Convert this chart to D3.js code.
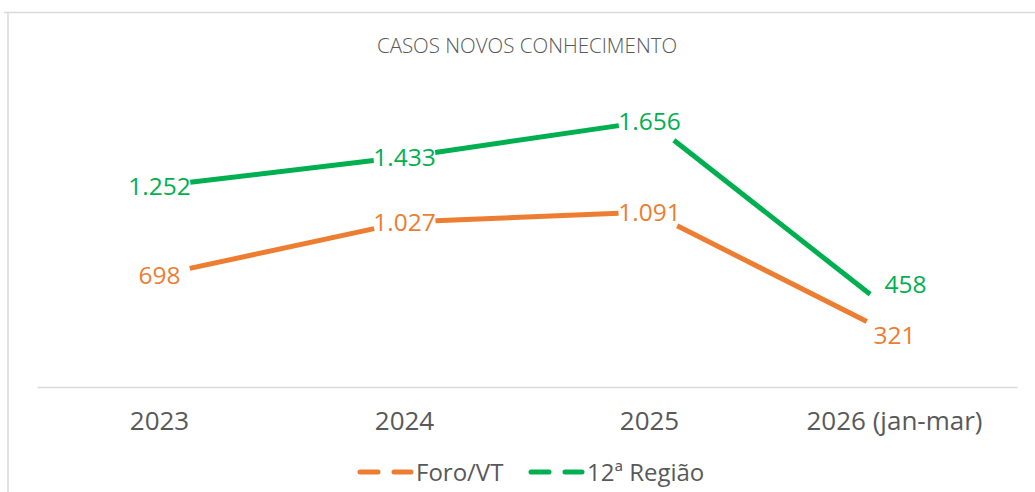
<!DOCTYPE html>
<html>
<head>
<meta charset="utf-8">
<script src="https://cdn.jsdelivr.net/npm/d3@7"></script>
<style>
  html, body { margin: 0; padding: 0; background: #fff; }
  svg { display: block; font-family: "Open Sans", sans-serif; }
</style>
</head>
<body>
<svg id="chart" width="1035" height="492"></svg>
<script>
const title = "CASOS NOVOS CONHECIMENTO";
const categories = ["2023", "2024", "2025", "2026 (jan-mar)"];
const seriesNames = ["Foro/VT", "12ª Região"];
const foroVT = [698, 1027, 1091, 321];
const regiao12 = [1252, 1433, 1656, 458];
const colors = ["#ED7D31", "#00B050"];
const yDomain = [0, 1800];

const fmt = v => d3.format(",")(v).replace(/,/g, ".");

const svg = d3.select("#chart");
const W = 1035, H = 492;

// outer frame (partial, as in reference)
svg.append("line").attr("x1", 4).attr("x2", W).attr("y1", 12.5).attr("y2", 12.5)
  .attr("stroke", "#d9d9d9").attr("stroke-width", 1.5);
svg.append("line").attr("x1", 8).attr("x2", 8).attr("y1", 12).attr("y2", H)
  .attr("stroke", "#d9d9d9").attr("stroke-width", 1.5);

svg.append("text").attr("x", 527).attr("y", 53).attr("text-anchor", "middle")
  .attr("fill", "#595959").attr("font-size", 20.5).attr("font-weight", 300)
  .text(title);

const x = d3.scaleBand().domain(categories).range([37, 1017]);
const y = d3.scaleLinear().domain(yDomain).range([387, 98]);

// x axis
const xAxis = svg.append("g").attr("transform", "translate(0,387)")
  .call(d3.axisBottom(x).tickSize(0).tickPadding(0));
xAxis.select(".domain").attr("stroke", "#d9d9d9").attr("stroke-width", 1.5);
xAxis.selectAll(".tick text").attr("font-family", "Open Sans, sans-serif")
  .attr("font-size", 26).attr("fill", "#595959").attr("dy", null).attr("y", 43);

const series = [foroVT, regiao12];
const gap = 31;

series.forEach((vals, si) => {
  const pts = vals.map((v, i) => [x(categories[i]) + x.bandwidth() / 2, y(v)]);
  const g = svg.append("g");
  for (let i = 0; i < pts.length - 1; i++) {
    const [x0, y0] = pts[i], [x1, y1] = pts[i + 1];
    const len = Math.hypot(x1 - x0, y1 - y0);
    const ux = (x1 - x0) / len, uy = (y1 - y0) / len;
    g.append("line")
      .attr("x1", x0 + ux * gap).attr("y1", y0 + uy * gap)
      .attr("x2", x1 - ux * gap).attr("y2", y1 - uy * gap)
      .attr("stroke", colors[si]).attr("stroke-width", 5).attr("stroke-linecap", "butt");
  }
  g.selectAll("text.lbl").data(vals).join("text").attr("class", "lbl")
    .attr("x", (d, i) => pts[i][0] + (si === 1 && i === 3 ? 11 : 0))
    .attr("y", (d, i) => pts[i][1] + (si === 1 && i === 3 ? -29 : 0))
    .attr("dy", "0.36em")
    .attr("text-anchor", "middle").attr("font-size", 24.5).attr("fill", colors[si])
    .text(d => fmt(d));
});

// legend
const legendItems = [
  { name: seriesNames[0], color: colors[0], x0: 358 },
  { name: seriesNames[1], color: colors[1], x0: 529 }
];
legendItems.forEach(it => {
  svg.append("line").attr("x1", it.x0 + 2).attr("x2", it.x0 + 53).attr("y1", 472).attr("y2", 472)
    .attr("stroke", it.color).attr("stroke-width", 5).attr("stroke-linecap", "round")
    .attr("stroke-dasharray", "18 16");
  svg.append("text").attr("x", it.x0 + 58).attr("y", 472).attr("dy", "0.36em")
    .attr("font-size", 24).attr("fill", "#595959").text(it.name);
});
</script>
</body>
</html>
